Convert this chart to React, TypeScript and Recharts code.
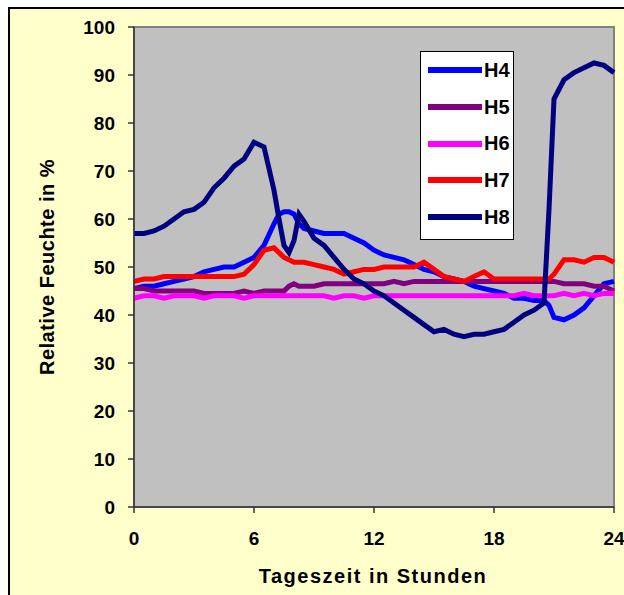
import React from 'react';
import { LineChart, Line, XAxis, YAxis, ReferenceArea, Legend } from 'recharts';

const hours = [
  0, 0.5, 1, 1.5, 2, 2.5, 3, 3.5, 4, 4.5, 5, 5.5, 6, 6.5, 7, 7.25, 7.5, 7.75, 8, 8.25, 8.5,
  9, 9.5, 10, 10.5, 11, 11.5, 12, 12.5, 13, 13.5, 14, 14.5, 15, 15.5, 16, 16.5, 17, 17.5,
  18, 18.5, 19, 19.5, 20, 20.5, 20.75, 21, 21.5, 22, 22.5, 23, 23.5, 24,
];

const h4 = [
  45.5, 46, 46, 46.5, 47, 47.5, 48, 49, 49.5, 50, 50, 51, 52, 54.5, 59, 61, 61.5, 61.5, 61, 59, 58,
  57.5, 57, 57, 57, 56, 55, 53.5, 52.5, 52, 51.5, 50.5, 49.5, 49, 48, 47.5, 47, 46, 45.5,
  45, 44.5, 43.5, 43.5, 43, 43, 42, 39.5, 39, 40, 41.5, 44, 46.5, 47,
];

const h5 = [
  45.5, 45.5, 45, 45, 45, 45, 45, 44.5, 44.5, 44.5, 44.5, 45, 44.5, 45, 45, 45, 45, 46, 46.5, 46, 46,
  46, 46.5, 46.5, 46.5, 46.5, 46.5, 46.5, 46.5, 47, 46.5, 47, 47, 47, 47, 47, 47, 47, 47,
  47, 47, 47, 47, 47, 47, 47, 47, 46.5, 46.5, 46.5, 46, 46, 45,
];

const h6 = [
  43.5, 44, 44, 43.5, 44, 44, 44, 43.5, 44, 44, 44, 43.5, 44, 44, 44, 44, 44, 44, 44, 44, 44,
  44, 44, 43.5, 44, 44, 43.5, 44, 44, 44, 44, 44, 44, 44, 44, 44, 44, 44, 44,
  44, 44, 44, 44.5, 44, 44, 44, 44, 44.5, 44, 44.5, 44, 44.5, 44.5,
];

const h7 = [
  47, 47.5, 47.5, 48, 48, 48, 48, 48, 48, 48, 48, 48.5, 50.5, 53.5, 54, 53, 52, 51.5, 51, 51, 51,
  50.5, 50, 49.5, 48.5, 49, 49.5, 49.5, 50, 50, 50, 50, 51, 49.5, 48, 47.5, 47, 48, 49,
  47.5, 47.5, 47.5, 47.5, 47.5, 47.5, 47.5, 48.5, 51.5, 51.5, 51, 52, 52, 51,
];

const h8 = [
  57, 57, 57.5, 58.5, 60, 61.5, 62, 63.5, 66.5, 68.5, 71, 72.5, 76, 75, 66, 60, 54.5, 53, 55.5, 61, 59.5,
  56, 54.5, 52, 49.5, 47.5, 46.5, 45, 44, 42.5, 41, 39.5, 38, 36.5, 37, 36, 35.5, 36, 36,
  36.5, 37, 38.5, 40, 41, 42.5, 62, 85, 89, 90.5, 91.5, 92.5, 92, 90.5,
];

const seriesNames = ['H4', 'H5', 'H6', 'H7', 'H8'];
const seriesValues = [h4, h5, h6, h7, h8];
const seriesColors = ['#0000FF', '#800080', '#FF00FF', '#FF0000', '#000080'];
const xTicks = [0, 6, 12, 18, 24];
const yTicks = [0, 10, 20, 30, 40, 50, 60, 70, 80, 90, 100];

const data = hours.map((t, i) => {
  const row: Record<string, number> = { t };
  seriesNames.forEach((name, k) => {
    row[name] = seriesValues[k][i];
  });
  return row;
});

const font = '"Liberation Sans", Arial, sans-serif';
const tickStyle = { fill: '#000', fontSize: 19, fontWeight: 'bold', fontFamily: font };

const LegendBox = () => (
  <div
    style={{
      width: 92,
      height: 187,
      background: '#fff',
      border: '1px solid #000',
      fontFamily: font,
      fontWeight: 'bold',
      fontSize: 20,
    }}
  >
    {seriesNames.map((name, k) => (
      <div key={name} style={{ height: 36.7, display: 'flex', alignItems: 'center' }}>
        <div style={{ width: 54, height: 6, background: seriesColors[k], marginLeft: 7, marginRight: 2 }} />
        <span>{name}</span>
      </div>
    ))}
  </div>
);

const App: React.FC = () => {
  return (
    <>
      <style>{'body{margin:0;overflow:hidden;}'}</style>
      <div
        style={{
          marginLeft: 8,
          marginTop: 7,
          width: 614,
          height: 586,
          background: '#FFFFCC',
          borderTop: '2px solid #000',
          borderLeft: '2px solid #000',
          overflow: 'hidden',
        }}
      >
        <LineChart
          width={614}
          height={586}
          data={data}
          margin={{ top: 18, right: 10, bottom: 58, left: 0 }}
          style={{ overflow: 'visible' }}
        >
          <ReferenceArea x1={0} x2={24} y1={0} y2={100} fill="#C0C0C0" fillOpacity={1} stroke="#808080" strokeWidth={2} />
          <XAxis
            dataKey="t"
            type="number"
            domain={[0, 24]}
            ticks={xTicks}
            height={30}
            tick={tickStyle}
            tickSize={6}
            tickMargin={19}
            axisLine={{ stroke: '#333', strokeWidth: 1.5 }}
            tickLine={{ stroke: '#333', strokeWidth: 1.5 }}
            label={{
              content: () => (
                <text x={363} y={574} textAnchor="middle" fontFamily={font} fontWeight="bold" fontSize={20} letterSpacing={1.5} fill="#000">
                  Tageszeit in Stunden
                </text>
              ),
            }}
          />
          <YAxis
            type="number"
            domain={[0, 100]}
            ticks={yTicks}
            width={124}
            tick={tickStyle}
            tickSize={6}
            tickMargin={13}
            axisLine={{ stroke: '#333', strokeWidth: 1.5 }}
            tickLine={{ stroke: '#333', strokeWidth: 1.5 }}
            label={{
              content: () => (
                <text
                  x={37}
                  y={258}
                  textAnchor="middle"
                  dominantBaseline="central"
                  transform="rotate(-90 37 258)"
                  fontFamily={font}
                  fontWeight="bold"
                  fontSize={20}
                  letterSpacing={0.5}
                  fill="#000"
                >
                  Relative Feuchte in %
                </text>
              ),
            }}
          />
          <Legend
            layout="vertical"
            align="center"
            verticalAlign="middle"
            content={() => <LegendBox />}
            wrapperStyle={{ position: 'absolute', left: 410, top: 42, width: 94, height: 189 }}
          />
          {seriesNames.map((name, k) => (
            <Line
              key={name}
              dataKey={name}
              stroke={seriesColors[k]}
              strokeWidth={5}
              dot={false}
              type="linear"
              isAnimationActive={false}
            />
          ))}
        </LineChart>
      </div>
    </>
  );
};

export default App;
